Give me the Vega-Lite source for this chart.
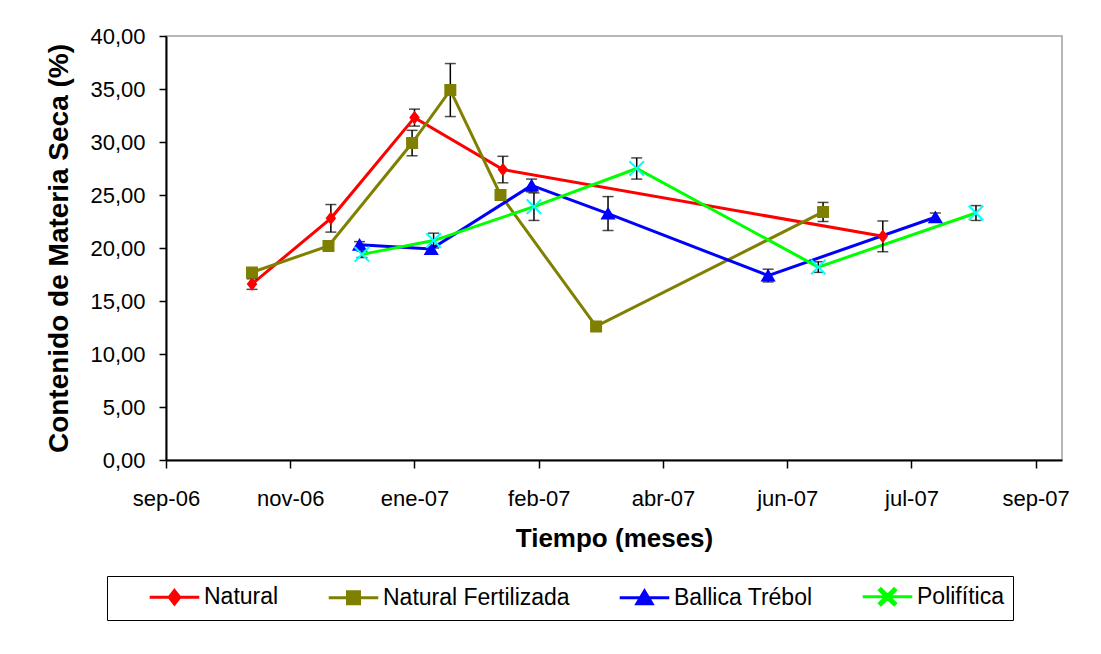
{
  "$schema": "https://vega.github.io/schema/vega-lite/v6.json",
  "autosize": "none",
  "padding": {"left": 166, "top": 36, "right": 39, "bottom": 194},
  "width": 896,
  "height": 424,
  "background": "white",
  "config": {
    "font": "Liberation Sans",
    "view": {"stroke": "#a0a0a0", "strokeWidth": 1.5},
    "axis": {
      "grid": false,
      "domainColor": "black",
      "domainWidth": 2,
      "tickColor": "black",
      "tickWidth": 1.5,
      "labelFont": "Liberation Sans",
      "labelFontSize": 22,
      "labelColor": "black",
      "titleFont": "Liberation Sans",
      "titleFontWeight": "bold",
      "titleColor": "black"
    }
  },
  "data": {
    "values": [
      {"serie": "Natural", "fecha": "2006/10/26", "valor": 16.6, "err": 0.5},
      {"serie": "Natural", "fecha": "2006/11/28", "valor": 22.8, "err": 1.3},
      {"serie": "Natural", "fecha": "2007/01/02", "valor": 32.3, "err": 0.8},
      {"serie": "Natural", "fecha": "2007/02/08", "valor": 27.4, "err": 1.25},
      {"serie": "Natural", "fecha": "2007/07/17", "valor": 21.1, "err": 1.45},
      {"serie": "Natural Fertilizada", "fecha": "2006/10/26", "valor": 17.7, "err": null},
      {"serie": "Natural Fertilizada", "fecha": "2006/11/27", "valor": 20.2, "err": null},
      {"serie": "Natural Fertilizada", "fecha": "2007/01/01", "valor": 29.9, "err": 1.2},
      {"serie": "Natural Fertilizada", "fecha": "2007/01/17", "valor": 34.9, "err": 2.5},
      {"serie": "Natural Fertilizada", "fecha": "2007/02/07", "valor": 25.0, "err": null},
      {"serie": "Natural Fertilizada", "fecha": "2007/03/19", "valor": 12.6, "err": null},
      {"serie": "Natural Fertilizada", "fecha": "2007/06/22", "valor": 23.4, "err": 0.9},
      {"serie": "Ballica Trébol", "fecha": "2006/12/10", "valor": 20.3, "err": 0.3},
      {"serie": "Ballica Trébol", "fecha": "2007/01/09", "valor": 19.9, "err": null},
      {"serie": "Ballica Trébol", "fecha": "2007/02/20", "valor": 25.9, "err": 0.6},
      {"serie": "Ballica Trébol", "fecha": "2007/03/24", "valor": 23.25, "err": 1.6},
      {"serie": "Ballica Trébol", "fecha": "2007/05/30", "valor": 17.4, "err": 0.6},
      {"serie": "Ballica Trébol", "fecha": "2007/08/08", "valor": 22.9, "err": 0.4},
      {"serie": "Polifítica", "fecha": "2006/12/11", "valor": 19.4, "err": 0.3},
      {"serie": "Polifítica", "fecha": "2007/01/10", "valor": 20.7, "err": 0.7},
      {"serie": "Polifítica", "fecha": "2007/02/21", "valor": 23.9, "err": 1.3},
      {"serie": "Polifítica", "fecha": "2007/04/05", "valor": 27.5, "err": 1.0},
      {"serie": "Polifítica", "fecha": "2007/06/20", "valor": 18.2, "err": 0.5},
      {"serie": "Polifítica", "fecha": "2007/08/25", "valor": 23.3, "err": 0.7}
    ]
  },
  "encoding": {
    "x": {
      "field": "fecha",
      "type": "temporal",
      "scale": {
        "domain": [
          {"year": 2006, "month": 9, "date": 20},
          {"year": 2007, "month": 9, "date": 30}
        ]
      },
      "axis": {
        "title": "Tiempo (meses)",
        "titleFontSize": 26,
        "titlePadding": 16,
        "values": [
          {"year": 2006, "month": 9, "date": 20},
          {"year": 2006, "month": 11, "date": 11},
          {"year": 2007, "month": 1, "date": 2},
          {"year": 2007, "month": 2, "date": 23},
          {"year": 2007, "month": 4, "date": 16},
          {"year": 2007, "month": 6, "date": 7},
          {"year": 2007, "month": 7, "date": 29},
          {"year": 2007, "month": 9, "date": 19}
        ],
        "labelExpr": "['ene','feb','mar','abr','may','jun','jul','ago','sep','oct','nov','dic'][month(datum.value)] + '-' + timeFormat(datum.value, '%y')",
        "tickSize": 8,
        "labelPadding": 20,
        "labelFlush": false,
        "labelOverlap": false
      }
    },
    "y": {
      "field": "valor",
      "type": "quantitative",
      "scale": {"domain": [0, 40], "nice": false, "zero": true},
      "axis": {
        "title": "Contenido de Materia Seca (%)",
        "titleFontSize": 28,
        "titlePadding": 16,
        "values": [0, 5, 10, 15, 20, 25, 30, 35, 40],
        "labelExpr": "replace(format(datum.value, '.2f'), '.', ',')",
        "tickSize": 7,
        "labelPadding": 14
      }
    }
  },
  "layer": [
    {
      "mark": {"type": "line", "strokeWidth": 3},
      "encoding": {
        "stroke": {
          "field": "serie",
          "type": "nominal",
          "scale": {
            "domain": ["Natural", "Natural Fertilizada", "Ballica Trébol", "Polifítica"],
            "range": ["#ff0000", "#808000", "#0000ff", "#00ff00"]
          },
          "legend": {
            "title": "\u00a0",
            "titleOrient": "left",
            "titlePadding": 47,
            "titleFontSize": 10,
            "orient": "none",
            "direction": "horizontal",
            "columns": 4,
            "legendX": -59,
            "legendY": 540,
            "padding": 9,
            "strokeColor": "black",
            "fillColor": "white",
            "symbolSize": 256,
            "symbolStrokeWidth": 3,
            "symbolOpacity": 1,
            "labelFont": "Liberation Sans",
            "labelFontSize": 23,
            "labelColor": "black",
            "labelOffset": 18,
            "columnPadding": 43,
            "labelLimit": 400
          }
        }
      }
    },
    {
      "transform": [{"filter": "datum.err > 0"}],
      "mark": {"type": "errorbar", "ticks": true, "color": "black", "thickness": 1.5, "size": 11},
      "encoding": {
        "y": {"field": "valor", "type": "quantitative"},
        "yError": {"field": "err"}
      }
    },
    {
      "mark": {"type": "point", "filled": true, "opacity": 1, "size": 256, "strokeWidth": 0},
      "encoding": {
        "shape": {
          "field": "serie",
          "type": "nominal",
          "scale": {
            "domain": ["Natural", "Natural Fertilizada", "Ballica Trébol", "Polifítica"],
            "range": [
              "M-3.1,0L3.1,0M0,-0.85L0.66,0L0,0.85L-0.66,0Z",
              "M-3.1,0L3.1,0M-0.75,-0.75L0.75,-0.75L0.75,0.75L-0.75,0.75Z",
              "M-3.1,0L3.1,0M0,-0.85L0.95,0.75L-0.95,0.75Z",
              "M-3.1,0L3.1,0M-1,-0.82L-0.82,-1L0,-0.18L0.82,-1L1,-0.82L0.18,0L1,0.82L0.82,1L0,0.18L-0.82,1L-1,0.82L-0.18,0Z"
            ]
          },
          "legend": null
        },
        "fill": {
          "field": "serie",
          "type": "nominal",
          "scale": {
            "domain": ["Natural", "Natural Fertilizada", "Ballica Trébol", "Polifítica"],
            "range": ["#ff0000", "#808000", "#0000ff", "#00ffff"]
          },
          "legend": null
        }
      }
    }
  ]
}
